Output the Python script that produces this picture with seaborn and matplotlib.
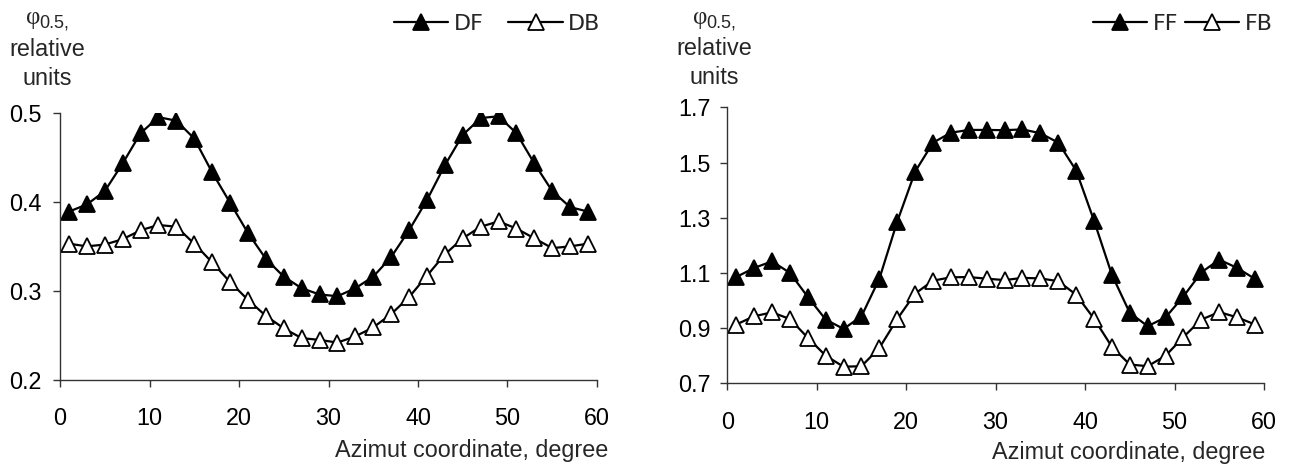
import numpy as np
import pandas as pd
import matplotlib
matplotlib.use("Agg")
import matplotlib.pyplot as plt
import seaborn as sns

# ---- data ----
azimut = list(range(1, 60, 2))

df_vals = [0.389, 0.397, 0.412, 0.443, 0.477, 0.495, 0.491, 0.471, 0.433, 0.399,
           0.365, 0.336, 0.316, 0.303, 0.296, 0.294, 0.303, 0.316, 0.338, 0.368,
           0.402, 0.441, 0.475, 0.494, 0.496, 0.477, 0.443, 0.412, 0.394, 0.389]
db_vals = [0.353, 0.350, 0.352, 0.358, 0.368, 0.374, 0.372, 0.353, 0.332, 0.310,
           0.290, 0.272, 0.258, 0.247, 0.245, 0.242, 0.249, 0.259, 0.274, 0.293,
           0.317, 0.341, 0.359, 0.372, 0.378, 0.370, 0.359, 0.348, 0.350, 0.353]

ff_vals = [1.085, 1.118, 1.142, 1.100, 1.013, 0.931, 0.897, 0.943, 1.079, 1.286,
           1.467, 1.572, 1.608, 1.618, 1.618, 1.617, 1.620, 1.606, 1.572, 1.471,
           1.289, 1.093, 0.955, 0.907, 0.939, 1.015, 1.102, 1.148, 1.118, 1.078]
fb_vals = [0.913, 0.943, 0.957, 0.933, 0.865, 0.800, 0.760, 0.762, 0.828, 0.933,
           1.025, 1.072, 1.084, 1.085, 1.079, 1.074, 1.082, 1.080, 1.070, 1.021,
           0.934, 0.832, 0.768, 0.762, 0.800, 0.868, 0.931, 0.958, 0.939, 0.913]

x_ticks = [0, 10, 20, 30, 40, 50, 60]
left_yticks = [0.2, 0.3, 0.4, 0.5]
right_yticks = [0.7, 0.9, 1.1, 1.3, 1.5, 1.7]

# ---- style ----
sns.set_theme(style="ticks")
plt.rcParams["font.family"] = ["Liberation Sans", "DejaVu Sans"]
FS = 16.8      # tick labels / captions
LEG_FS = 16    # legend text
W, H = 1296, 466

fig = plt.figure(figsize=(W / 100, H / 100), dpi=100)


def px_axes(x0, x1, ytop, ybot):
    return fig.add_axes([x0 / W, 1 - ybot / H, (x1 - x0) / W, (ybot - ytop) / H])


ax1 = px_axes(60, 597, 112.7, 380)
ax2 = px_axes(727.3, 1264, 107.3, 383.3)


def draw_pair(ax, vals_a, lab_a, vals_b, lab_b, xpad, ypad):
    d = pd.DataFrame({"x": azimut, "a": vals_a, "b": vals_b})
    common = dict(color="black", marker="^", markersize=11, markeredgecolor="black",
                  markeredgewidth=1.3, linewidth=1.6, ax=ax)
    sns.lineplot(data=d, x="x", y="a", markerfacecolor="black", label=lab_a, **common)
    sns.lineplot(data=d, x="x", y="b", markerfacecolor="white", label=lab_b, **common)
    ax.set_xlabel("")
    ax.set_ylabel("")
    ax.set_xlim(0, 60)
    ax.set_xticks(x_ticks)
    for s in ["top", "right"]:
        ax.spines[s].set_visible(False)
    for s in ["left", "bottom"]:
        ax.spines[s].set_color("#333333")
        ax.spines[s].set_linewidth(1.0)
    ax.tick_params(axis="both", direction="out", length=5, width=1.0,
                   color="#333333", labelsize=FS, labelcolor="black")
    ax.tick_params(axis="x", pad=xpad)
    ax.tick_params(axis="y", pad=ypad)


draw_pair(ax1, df_vals, "DF", db_vals, "DB", 14.5, 8)
ax1.set_ylim(0.2, 0.5)
ax1.set_yticks(left_yticks)
ax1.set_yticklabels([f"{v:.1f}" for v in left_yticks])

draw_pair(ax2, ff_vals, "FF", fb_vals, "FB", 15, 7.2)
ax2.set_ylim(0.7, 1.7)
ax2.set_yticks(right_yticks)
ax2.set_yticklabels([f"{v:.1f}" for v in right_yticks])

# legends along the top
for ax, lx, colsp in [(ax1, 394, 1.1), (ax2, 1092.7, 0.3)]:
    ax.legend(loc="center left", bbox_to_anchor=(lx / W, 1 - 24 / H),
              bbox_transform=fig.transFigure, ncol=2, frameon=False,
              prop={"family": "DejaVu Sans", "size": LEG_FS},
              handlelength=2.45, handletextpad=0.25, markerscale=1.1,
              columnspacing=colsp, borderpad=0, borderaxespad=0)

# y-axis captions above each plot
for phi_x, cx, rel_y, un_y in [(26, 47, 56, 85), (692.7, 714, 55, 84)]:
    fig.text(phi_x / W, 1 - 24 / H, "φ", fontsize=FS + 1,
             family=["Liberation Serif", "DejaVu Serif"], ha="left", va="baseline")
    fig.text((phi_x + 13.5) / W, 1 - 27 / H, "0.5,", fontsize=13, ha="left", va="baseline")
    fig.text(cx / W, 1 - rel_y / H, "relative", fontsize=FS, ha="center", va="baseline")
    fig.text(cx / W, 1 - un_y / H, "units", fontsize=FS, ha="center", va="baseline")

# x-axis captions
fig.text(608 / W, 1 - 457 / H, "Azimut coordinate, degree", fontsize=FS, ha="right", va="baseline")
fig.text(1265 / W, 1 - 459 / H, "Azimut coordinate, degree", fontsize=FS, ha="right", va="baseline")

fig.savefig("out.png", dpi=100)
